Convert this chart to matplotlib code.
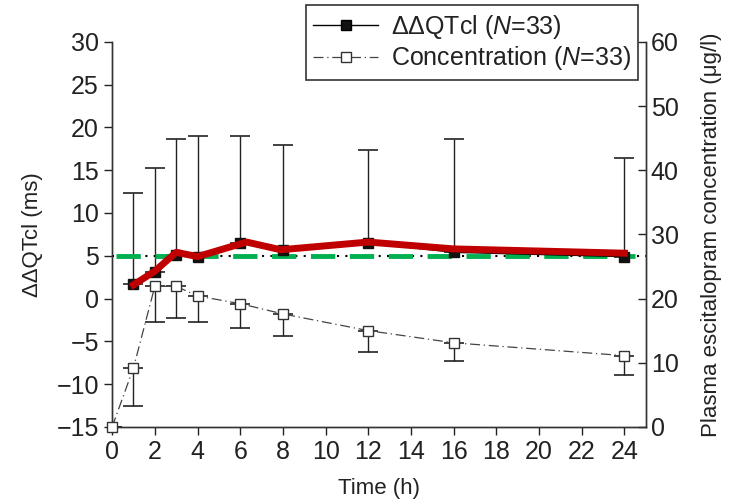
import numpy as np
import matplotlib
matplotlib.use('Agg')
from matplotlib import pyplot as plt
from matplotlib.lines import Line2D

plt.rcParams['font.family'] = ['Liberation Sans', 'DejaVu Sans']
plt.rcParams['mathtext.fontset'] = 'custom'
plt.rcParams['mathtext.rm'] = 'Liberation Sans'
plt.rcParams['mathtext.it'] = 'Liberation Sans:italic'

# time points (h)
qt_time = [1, 2, 3, 4, 6, 8, 12, 16, 24]
qt_mean = [1.7, 3.1, 5.1, 4.8, 6.5, 5.7, 6.5, 5.4, 4.9]
qt_upper = [12.3, 15.2, 18.7, 19.0, 19.0, 17.9, 17.4, 18.6, 16.4]

# red model curve (ms)
fit_time = [1, 2, 3, 4, 6.3, 7.9, 12, 16, 24]
fit_value = [1.6, 3.2, 5.4, 4.9, 6.6, 5.7, 6.6, 5.8, 5.3]

threshold = 5.0

conc_time = [0, 1, 2, 3, 4, 6, 8, 12, 16, 24]
conc_mean = [0.0, 9.2, 21.9, 21.9, 20.4, 19.2, 17.6, 15.0, 13.1, 11.1]
conc_lower = [0.0, 3.3, 16.4, 16.9, 16.4, 15.4, 14.2, 11.7, 10.3, 8.1]

fig = plt.figure(figsize=(7.33, 5.04), dpi=100)
ax = fig.add_axes([0.153, 0.153, 0.728, 0.764])
ax2 = ax.twinx()

# QTc errors (upward only)
qt_mean = np.array(qt_mean)
qt_err = np.array(qt_upper) - qt_mean
ax.errorbar(qt_time, qt_mean, yerr=[np.zeros_like(qt_err), qt_err], fmt='none',
            ecolor='#222222', elinewidth=1.0, capsize=7, capthick=1.2, zorder=2)
ax.plot([0, 25], [threshold, threshold], color='black', lw=1.5,
        ls=(0, (1, 3)), zorder=3)
ax.plot([0.2, 24.5], [threshold, threshold], color='#00b050', lw=3.5,
        ls=(0, (5, 3)), zorder=3)
ax.plot(qt_time, qt_mean, color='black', lw=1, marker='s', ms=7,
        mfc='#111111', mec='#111111', zorder=4)
ax.plot(fit_time, fit_value, color='#c00000', lw=5, solid_joinstyle='round',
        zorder=5)

# concentration errors (downward only)
conc_mean = np.array(conc_mean)
conc_err = conc_mean - np.array(conc_lower)
ax2.errorbar(conc_time, conc_mean, yerr=[conc_err, np.zeros_like(conc_err)],
             fmt='none', ecolor='#222222', elinewidth=1.0, capsize=7,
             capthick=1.2, zorder=2)
ax2.plot(conc_time, conc_mean, color='#444444', lw=0.9, ls=(0, (8, 3, 1, 3)),
         marker='s', ms=7.5, mfc='white', mec='#333333', mew=1.0, zorder=4,
         clip_on=False)

ax.set_xlim(0, 25)
ax.set_ylim(-15, 30)
ax2.set_ylim(0, 60)
ax.set_xticks(range(0, 25, 2))
ax.set_yticks(range(-15, 31, 5))
ax2.set_yticks(range(0, 61, 10))
ax.set_yticklabels([str(v).replace('-', '\u2212') for v in range(-15, 31, 5)])

for a in (ax, ax2):
    a.spines['top'].set_visible(False)
    for s in a.spines.values():
        s.set_color('#333333')
        s.set_linewidth(1.0)
ax.tick_params(axis='both', direction='out', length=6, width=1,
               labelsize=18, colors='#222222')
ax2.tick_params(axis='y', direction='in', length=6, width=1,
                labelsize=18, colors='#222222')

ax.set_xlabel('Time (h)', fontsize=16, color='#222222', labelpad=10)
ax.set_ylabel('\u0394\u0394QTcl (ms)', fontsize=16, color='#222222', labelpad=10)
ax2.set_ylabel('Plasma escitalopram concentration (\u03bcg/l)', fontsize=16,
               color='#222222', labelpad=16)

handles = [
    Line2D([], [], color='black', lw=1, marker='s', ms=7, mfc='#111111'),
    Line2D([], [], color='#444444', lw=0.9, ls=(0, (8, 3, 1, 3)), marker='s',
           ms=7, mfc='white', mec='#333333'),
]
labels = ['\u0394\u0394QTcl ($N$=33)', 'Concentration ($N$=33)']
leg = ax2.legend(handles, labels, loc='upper left',
                 bbox_to_anchor=(0.417, 0.99), bbox_transform=fig.transFigure,
                 fontsize=18, frameon=True, fancybox=False, framealpha=1,
                 edgecolor='#333333', handlelength=2.6, handletextpad=0.5,
                 borderpad=0.3, labelspacing=0.15, borderaxespad=0)
leg.get_frame().set_linewidth(1.2)
for t in leg.get_texts():
    t.set_color('#222222')

fig.savefig('out.png', dpi=100)
